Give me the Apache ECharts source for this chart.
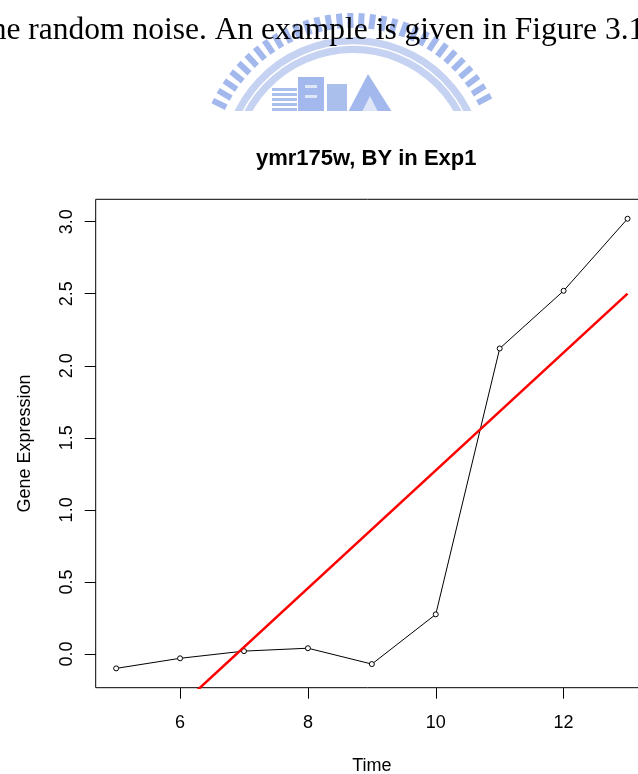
<!DOCTYPE html>
<html>
<head>
<meta charset="utf-8">
<script src="https://cdn.jsdelivr.net/npm/echarts@6/dist/echarts.min.js"></script>
<style>
html,body{margin:0;padding:0;background:#fff;}
#chart{width:638px;height:774px;}
</style>
</head>
<body>
<div id="chart"></div>
<script>
// ---- data ----
var timePoints = [5, 6, 7, 8, 9, 10, 11, 12, 13];
var geneExpression = [-0.10, -0.03, 0.02, 0.04, -0.07, 0.275, 2.12, 2.52, 3.02];
var fitX = [5, 13];
var fitY = [-0.77, 2.50];
var xTicks = [6, 8, 10, 12];
var yTicks = [0, 0.5, 1.0, 1.5, 2.0, 2.5, 3.0];
var chartTitle = 'ymr175w, BY in Exp1';
var xName = 'Time';
var yName = 'Gene Expression';
var captionText = 'the random noise. An example is given in Figure 3.1';

var chart = echarts.init(document.getElementById('chart'));

// decorative watermark logo (faint blue), only the part above the chart picture
var wm = [];
var cx = 353, cy = 169;
for (var a = 206; a <= 334; a += 4.2) {
  var r = a * Math.PI / 180;
  var c = Math.cos(r), s = Math.sin(r);
  wm.push({type: 'line', z: -10, shape: {x1: cx + 141 * c, y1: cy + 141 * s, x2: cx + 156 * c, y2: cy + 156 * s},
    style: {stroke: '#a3b8ec', lineWidth: 6}});
}
wm.push({type: 'arc', z: -10, shape: {cx: cx, cy: cy, r: 124, startAngle: Math.PI * 1.12, endAngle: Math.PI * 1.88},
  style: {stroke: '#c6d2f2', lineWidth: 16, fill: null}});
wm.push({type: 'arc', z: -9, shape: {cx: cx, cy: cy, r: 124, startAngle: Math.PI * 1.12, endAngle: Math.PI * 1.88},
  style: {stroke: '#ffffff', lineWidth: 1.5, fill: null}});
for (var k = 0; k < 5; k++) {
  wm.push({type: 'rect', z: -10, shape: {x: 272, y: 88 + k * 5, width: 25, height: 3}, style: {fill: '#abbfed'}});
}
wm.push({type: 'rect', z: -10, shape: {x: 298, y: 77, width: 26, height: 35}, style: {fill: '#a3b8ec'}});
wm.push({type: 'rect', z: -9, shape: {x: 305, y: 85, width: 12, height: 3}, style: {fill: '#dfe6f8'}});
wm.push({type: 'rect', z: -9, shape: {x: 305, y: 95, width: 12, height: 3}, style: {fill: '#dfe6f8'}});
wm.push({type: 'rect', z: -10, shape: {x: 327, y: 84, width: 20, height: 28}, style: {fill: '#abbfed'}});
wm.push({type: 'polygon', z: -10, shape: {points: [[348, 112], [368, 74], [392, 112]]}, style: {fill: '#a3b8ec'}});
wm.push({type: 'polygon', z: -9, shape: {points: [[362, 112], [370, 96], [378, 112]]}, style: {fill: '#dfe6f8'}});
wm.push({type: 'rect', z: -8, shape: {x: 0, y: 111, width: 638, height: 663}, style: {fill: '#ffffff'}});
wm.push({type: 'text', z: 0, x: -18, y: 31,
  style: {text: captionText, font: '31.5px "Liberation Serif"', fill: '#000', verticalAlign: 'middle', align: 'left'}});

chart.setOption({
  backgroundColor: '#ffffff',
  animation: false,
  title: {
    text: chartTitle,
    left: 256,
    top: 148,
    padding: 0,
    textStyle: {fontFamily: 'Liberation Sans', fontWeight: 'bold', fontSize: 22, color: '#000'}
  },
  graphic: wm,
  grid: {
    left: 95.7, top: 199.3, width: 552.3, height: 488.4,
    outerBoundsMode: 'none', containLabel: false,
    show: true, borderColor: '#000', borderWidth: 1, backgroundColor: 'transparent'
  },
  xAxis: {
    type: 'value', min: 4.68, max: 13.32,
    name: xName, nameLocation: 'middle', nameGap: 69,
    nameTextStyle: {fontFamily: 'Liberation Sans', fontSize: 18, color: '#000'},
    axisLine: {show: false, onZero: false},
    splitLine: {show: false},
    axisTick: {show: true, inside: false, length: 11, customValues: xTicks, lineStyle: {color: '#000', width: 1}},
    axisLabel: {customValues: xTicks, margin: 26, fontFamily: 'Liberation Sans', fontSize: 18, color: '#000'}
  },
  yAxis: {
    type: 'value', min: -0.234, max: 3.155,
    name: yName, nameLocation: 'middle', nameGap: 62,
    nameTextStyle: {fontFamily: 'Liberation Sans', fontSize: 18, color: '#000'},
    axisLine: {show: false, onZero: false},
    splitLine: {show: false},
    axisTick: {show: true, inside: false, length: 11, customValues: yTicks, lineStyle: {color: '#000', width: 1}},
    axisLabel: {customValues: yTicks, rotate: 90, margin: 20, fontFamily: 'Liberation Sans', fontSize: 18, color: '#000',
      formatter: function (v) { return v.toFixed(1); }}
  },
  series: [
    {
      type: 'line',
      data: timePoints.map(function (t, i) { return [t, geneExpression[i]]; }),
      symbol: 'circle', symbolSize: 5, showSymbol: true,
      itemStyle: {color: '#ffffff', borderColor: '#000', borderWidth: 1},
      lineStyle: {color: '#000', width: 1},
      z: 3
    },
    {
      type: 'line',
      data: fitX.map(function (t, i) { return [t, fitY[i]]; }),
      symbol: 'none', clip: true,
      lineStyle: {color: '#ff0000', width: 2.5},
      z: 4
    }
  ]
});
</script>
</body>
</html>
